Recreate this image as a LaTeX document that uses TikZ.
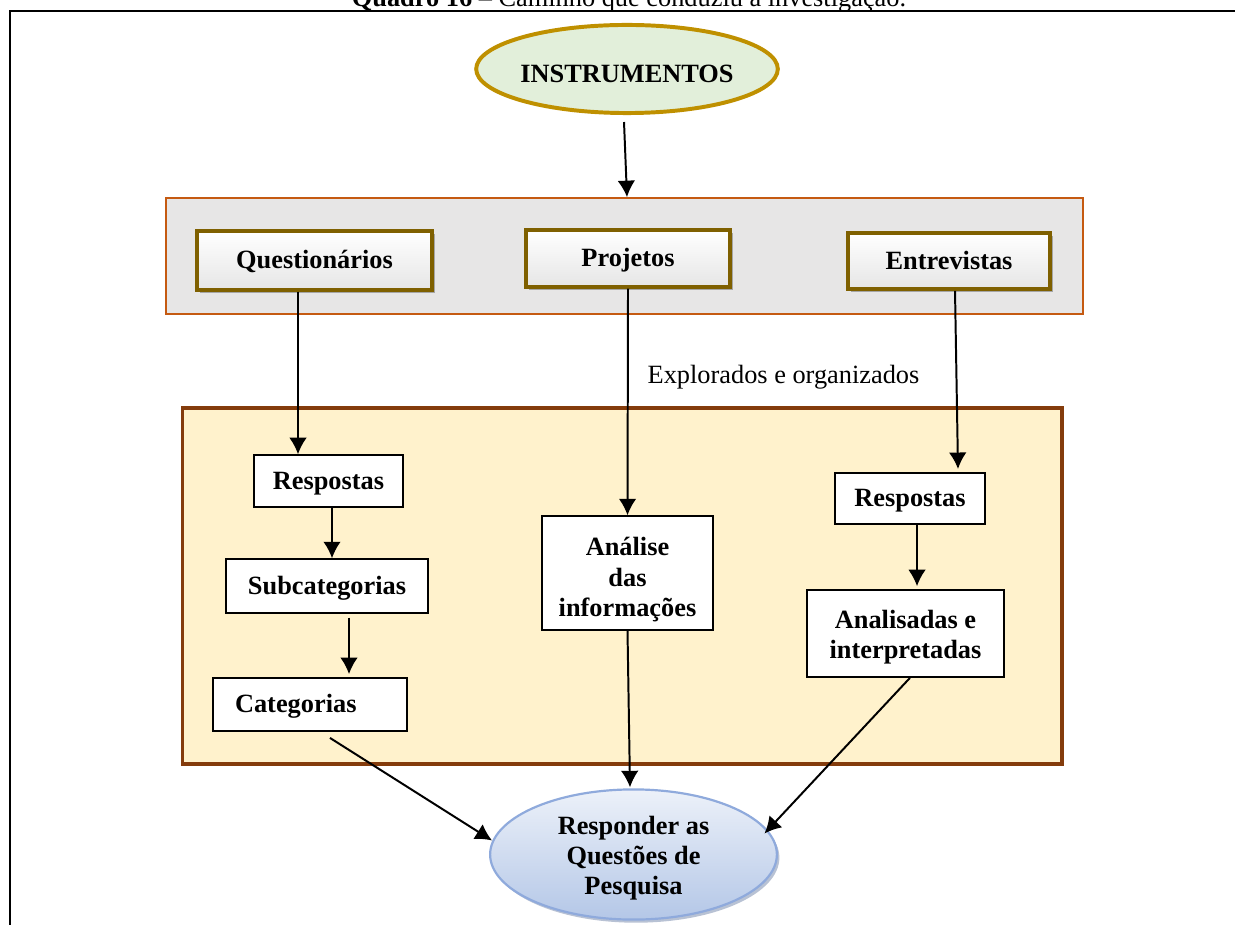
\documentclass[tikz,border=0pt]{standalone}
\usepackage{fontspec}
\setmainfont{Liberation Serif}
\usepackage{tikz}
\usepackage{xcolor}
\usetikzlibrary{shapes.geometric, arrows.meta, positioning, calc, shadows}

\definecolor{instrgreen}{HTML}{E2EFDA}
\definecolor{instrgold}{HTML}{BF9000}
\definecolor{panelgray}{HTML}{E7E6E6}
\definecolor{panelorange}{HTML}{C55A11}
\definecolor{boxolive}{HTML}{7F6000}
\definecolor{areapeach}{HTML}{FFF2CC}
\definecolor{areabrown}{HTML}{843C0C}
\definecolor{respblue}{HTML}{B4C7E7}
\definecolor{respedge}{HTML}{8FAADC}

\begin{document}
\begin{tikzpicture}[x=0.016cm, y=-0.016cm, font=\fontsize{12}{13.8}\selectfont,
    toolbox/.style={draw=boxolive, line width=1.6pt, rectangle, top color=white, bottom color=gray!20,
        drop shadow={shadow xshift=0.05cm, shadow yshift=-0.05cm, fill=gray!70, opacity=1},
        font=\fontsize{12}{13.8}\selectfont\bfseries},
    stepbox/.style={draw, line width=0.8pt, rectangle, fill=white, align=center,
        font=\fontsize{12}{13.8}\selectfont\bfseries},
    oneline/.style={text height=0.98em, text depth=0.25em},
    flow/.style={-{Latex[length=7.5pt,width=8pt]}, line width=0.9pt}]
    \useasboundingbox (0,0) rectangle (1235,925);
    \node[anchor=base] (title) at (629,7) {\textbf{Quadro 16} -- Caminho que conduziu à investigação.};
    \draw[line width=0.9pt] (10,925) -- (10,11) -- (1235,11);

    \node[draw=panelorange, line width=0.8pt, fill=panelgray, minimum width=14.67cm, minimum height=1.856cm, inner sep=0] (panel) at (624.5,256) {};
    \node[draw=areabrown, line width=1.5pt, fill=areapeach, minimum width=14.08cm, minimum height=5.70cm, inner sep=0] (area) at (622,586) {};

    \node[ellipse, draw=instrgold, line width=1.8pt, fill=instrgreen, minimum width=4.64cm, minimum height=1.41cm, inner sep=0,
        text height=1.22em, text depth=0pt, font=\fontsize{12}{13.8}\selectfont\bfseries] (instr) at (627,69) {INSTRUMENTOS};
    \node[toolbox, oneline, minimum width=3.76cm, minimum height=0.94cm] (quest) at (314.5,260.5) {Questionários};
    \node[toolbox, oneline, minimum width=3.26cm, minimum height=0.91cm] (proj) at (628,258.5) {Projetos};
    \node[toolbox, oneline, minimum width=3.23cm, minimum height=0.90cm] (entr) at (949,261) {Entrevistas};
    \node[anchor=base] (expl) at (783.5,384) {Explorados e organizados};

    \node[stepbox, oneline, minimum width=2.38cm, minimum height=0.83cm] (resp1) at (328.5,481) {Respostas};
    \node[stepbox, oneline, minimum width=3.23cm, minimum height=0.86cm] (subcat) at (327,586) {Subcategorias};
    \node[stepbox, oneline, text width=2.4cm, align=left, inner xsep=0.352cm, minimum height=0.85cm] (categ) at (310,704.5) {Categorias};
    \node[stepbox, minimum width=2.74cm, minimum height=1.82cm] (analise) at (627.5,573) {\rule{0pt}{1.2em}Análise\\das\\informações};
    \node[stepbox, oneline, minimum width=2.4cm, minimum height=0.82cm] (resp2) at (910,498.5) {Respostas};
    \node[stepbox, minimum width=3.15cm, minimum height=1.39cm] (analis) at (905.5,633.5) {\rule{0pt}{0.95em}Analisadas e\\interpretadas};
    \node[ellipse, draw=respedge, line width=1pt, top color=respblue!25, bottom color=respblue,
        drop shadow={shadow xshift=0.04cm, shadow yshift=-0.05cm, fill=respedge!60!gray, opacity=0.6},
        minimum width=4.59cm, minimum height=2.0cm, inner sep=0, align=center,
        font=\fontsize{12}{13.8}\selectfont\bfseries] (resp) at (633.5,854.5) {\rule{0pt}{0.98em}Responder as\\Questões de\\Pesquisa};

    \draw[flow] ($(instr.south)+(-3,7)$) -- ($(panel.north)+(2.5,0)$);
    \draw[flow] ($(quest.south)+(-16.5,0)$) -- ($(resp1.north)+(-30.5,0)$);
    \draw[flow] (proj.south) -- (analise.north);
    \draw[flow] ($(entr.south)+(6,0)$) -- ($(resp2.north)+(48,-3)$);
    \draw[flow] ($(resp1.south)+(3.5,0)$) -- ($(subcat.north)+(5,0)$);
    \draw[flow] ($(subcat.south)+(22,4)$) -- ($(categ.north)+(39,-3)$);
    \draw[flow] ($(resp2.south)+(7,0)$) -- ($(analis.north)+(11.5,-3)$);
    \draw[flow] ($(categ.south)+(20,6)$) -- ($(resp.west)+(3,-14)$);
    \draw[flow] (analise.south) -- ($(resp.north)+(-3.5,-1)$);
    \draw[flow] ($(analis.south)+(4.5,0)$) -- ($(resp.east)+(-13.5,-21)$);
\end{tikzpicture}
\end{document}
